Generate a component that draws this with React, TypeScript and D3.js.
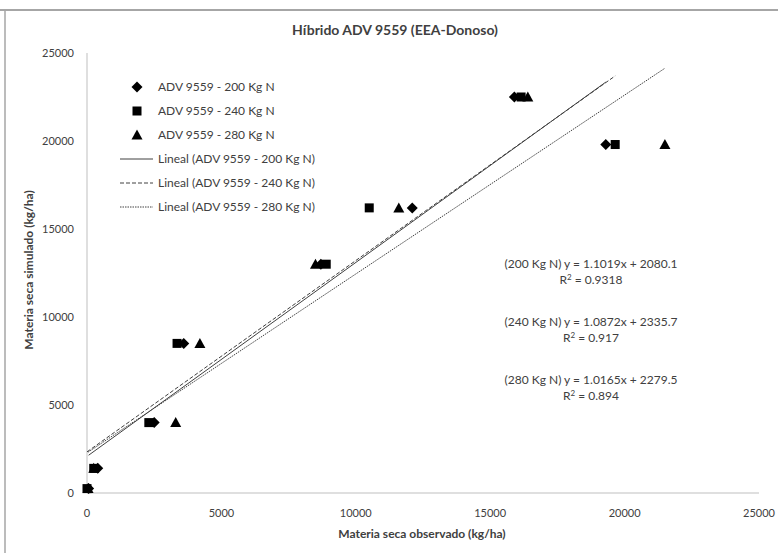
import React from "react";
import * as d3 from "d3";

// observed vs simulated dry matter (kg/ha), one array per N dose
const simulated = [250, 1400, 4000, 8500, 13000, 16200, 22500, 19800];
const obs200 = [60, 400, 2500, 3600, 8700, 12100, 15900, 19300];
const obs240 = [0, 250, 2300, 3350, 8900, 10500, 16150, 19650];
const obs280 = [40, 250, 3300, 4200, 8500, 11600, 16400, 21500];

const xTicks = [0, 5000, 10000, 15000, 20000, 25000];
const yTicks = [0, 5000, 10000, 15000, 20000, 25000];

// trendlines: slope, intercept, r2 (from the chart)
const slopes = [1.1019, 1.0872, 1.0165];
const intercepts = [2080.1, 2335.7, 2279.5];
const r2s = ["0.9318", "0.917", "0.894"];
const doses = ["200", "240", "280"];

const W = 778;
const H = 553;
const FONT = "Lato, 'Open Sans', sans-serif";
const INK = "#404040";

type Pt = { x: number; y: number };

const series = [obs200, obs240, obs280].map((obs) =>
    obs.map((x, i) => ({ x, y: simulated[i] } as Pt))
);

const Marker: React.FC<{ kind: number; cx: number; cy: number }> = ({ kind, cx, cy }) => {
    if (kind === 0) {
        const r = 5.5;
        return <path d={`M${cx},${cy - r}L${cx + r},${cy}L${cx},${cy + r}L${cx - r},${cy}Z`} fill="#000" />;
    }
    if (kind === 1) {
        return <rect x={cx - 4.5} y={cy - 4.5} width={9} height={9} fill="#000" />;
    }
    return <path d={`M${cx},${cy - 5.5}L${cx + 5.5},${cy + 4.5}L${cx - 5.5},${cy + 4.5}Z`} fill="#000" />;
};

const dashes = [undefined, "4,2", "1.5,1"];

export default function App() {
    const x = d3.scaleLinear().domain([0, 25000]).range([87, 759]);
    const y = d3.scaleLinear().domain([0, 25000]).range([493, 53]);

    const trend = d3
        .line<Pt>()
        .x((d) => x(d.x))
        .y((d) => y(d.y));

    const eqY = [268, 326, 384];
    const legendRows = [
        "ADV 9559 - 200 Kg N",
        "ADV 9559 - 240 Kg N",
        "ADV 9559 - 280 Kg N",
        "Lineal (ADV 9559 - 200 Kg N)",
        "Lineal (ADV 9559 - 240 Kg N)",
        "Lineal (ADV 9559 - 280 Kg N)",
    ];

    return (
        <svg width={W} height={H} style={{ position: "absolute", left: 0, top: 0, background: "#fff" }} fontFamily={FONT}>
            {/* frame */}
            <line x1={0} x2={W} y1={10} y2={10} stroke="#a6a6a6" strokeWidth={2} />
            <line x1={5} x2={5} y1={10} y2={H} stroke="#a6a6a6" strokeWidth={1.5} />

            <text x={395} y={35} textAnchor="middle" fontSize={14} fontWeight="bold" fill={INK}>
                Híbrido ADV 9559 (EEA-Donoso)
            </text>

            {/* axes */}
            <line x1={x(0)} x2={x(25000)} y1={y(0)} y2={y(0)} stroke="#bfbfbf" />
            <line x1={x(0)} x2={x(0)} y1={y(0)} y2={y(25000)} stroke="#bfbfbf" />
            {xTicks.map((t) => (
                <text key={t} x={x(t)} y={517} textAnchor="middle" fontSize={11} fill={INK}>
                    {t}
                </text>
            ))}
            {yTicks.map((t) => (
                <text key={t} x={74} y={y(t) + 4} textAnchor="end" fontSize={11} fill={INK}>
                    {t}
                </text>
            ))}
            <text x={422} y={538} textAnchor="middle" fontSize={12} fontWeight="bold" fill={INK}>
                Materia seca observado (kg/ha)
            </text>
            <text
                transform={`translate(33,270) rotate(-90)`}
                textAnchor="middle"
                fontSize={12}
                fontWeight="bold"
                fill={INK}
            >
                Materia seca simulado (kg/ha)
            </text>

            {/* trendlines over each series' observed range */}
            {series.map((s, k) => {
                const [lo, hi] = d3.extent(s, (d) => d.x) as [number, number];
                const pts = [lo, hi].map((v) => ({ x: v, y: slopes[k] * v + intercepts[k] }));
                return (
                    <path
                        key={k}
                        d={trend(pts) ?? ""}
                        fill="none"
                        stroke={INK}
                        strokeWidth={1}
                        strokeDasharray={dashes[k]}
                    />
                );
            })}

            {/* points */}
            {series.map((s, k) =>
                s.map((d, i) => <Marker key={`${k}-${i}`} kind={k} cx={x(d.x)} cy={y(d.y)} />)
            )}

            {/* legend */}
            {legendRows.map((label, i) => {
                const ly = 87 + i * 24;
                return (
                    <g key={label}>
                        {i < 3 ? (
                            <Marker kind={i} cx={137} cy={ly} />
                        ) : (
                            <line
                                x1={120}
                                x2={153}
                                y1={ly}
                                y2={ly}
                                stroke={INK}
                                strokeWidth={1}
                                strokeDasharray={dashes[i - 3]}
                            />
                        )}
                        <text x={158} y={ly + 4} fontSize={12} fill={INK}>
                            {label}
                        </text>
                    </g>
                );
            })}

            {/* equations */}
            {doses.map((dz, k) => (
                <g key={dz} fontSize={12} fill={INK}>
                    <text x={591} y={eqY[k]} textAnchor="middle">
                        {`(${dz} Kg N) y = ${slopes[k]}x + ${intercepts[k]}`}
                    </text>
                    <text x={591} y={eqY[k] + 16} textAnchor="middle">
                        R<tspan dy={-4} fontSize={8}>2</tspan>
                        <tspan dy={4}>{` = ${r2s[k]}`}</tspan>
                    </text>
                </g>
            ))}
        </svg>
    );
}
